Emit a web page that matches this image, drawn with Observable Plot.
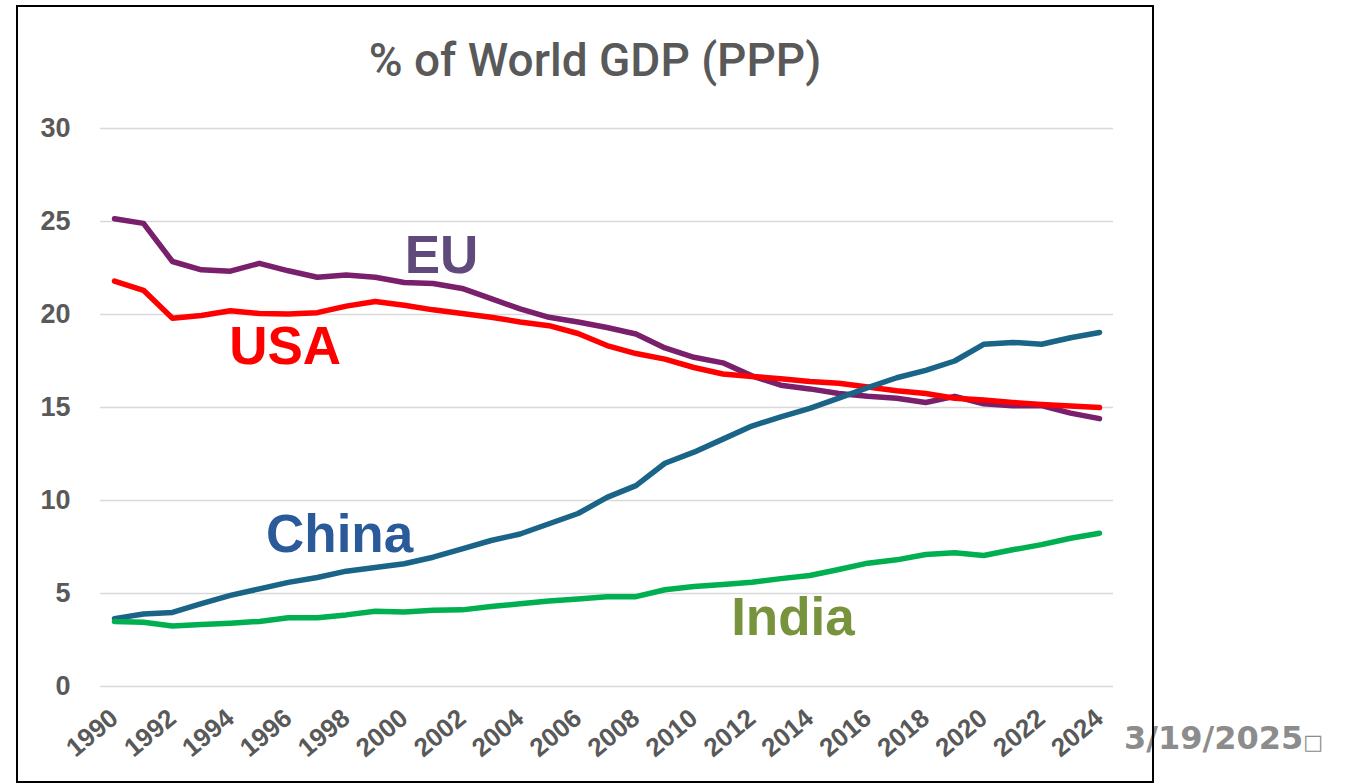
<!DOCTYPE html>
<html><head><meta charset="utf-8">
<script src="https://cdn.jsdelivr.net/npm/d3@7"></script>
<script src="https://cdn.jsdelivr.net/npm/@observablehq/plot@0.6"></script>
<style>
html,body{margin:0;padding:0;background:#fff;width:1355px;height:783px;overflow:hidden}
#wrap{position:relative;width:1355px;height:783px}
</style></head><body><div id="wrap"></div>
<script>
const years = [1990,1991,1992,1993,1994,1995,1996,1997,1998,1999,2000,2001,2002,2003,2004,2005,2006,2007,2008,2009,2010,2011,2012,2013,2014,2015,2016,2017,2018,2019,2020,2021,2022,2023,2024];
const eu = [25.15,24.9,22.85,22.4,22.33,22.75,22.35,22.0,22.12,22.0,21.72,21.67,21.4,20.85,20.3,19.85,19.6,19.3,18.95,18.2,17.7,17.4,16.7,16.2,16.0,15.75,15.6,15.5,15.27,15.6,15.2,15.1,15.1,14.7,14.4];
const usa = [21.8,21.3,19.8,19.95,20.2,20.05,20.03,20.1,20.45,20.7,20.5,20.25,20.05,19.85,19.6,19.4,18.98,18.33,17.9,17.6,17.15,16.8,16.67,16.55,16.4,16.3,16.1,15.9,15.75,15.5,15.4,15.27,15.16,15.08,15.0];
const china = [3.65,3.9,3.98,4.45,4.9,5.25,5.6,5.86,6.2,6.4,6.6,6.95,7.4,7.85,8.2,8.75,9.3,10.17,10.8,12.0,12.6,13.3,14.0,14.5,14.95,15.5,16.07,16.6,17.0,17.5,18.4,18.5,18.4,18.75,19.03];
const india = [3.5,3.45,3.25,3.33,3.4,3.5,3.7,3.7,3.85,4.05,4.0,4.1,4.12,4.3,4.45,4.6,4.7,4.83,4.83,5.2,5.38,5.48,5.6,5.8,5.97,6.29,6.63,6.81,7.1,7.19,7.04,7.35,7.63,7.97,8.24];
const seriesNames = ["EU","USA","China","India"];
const seriesColors = ["#791f6c","#ff0000","#1a6488","#00b050"];
const labelColors = ["#604a7b","#ff0000","#2a5a9a","#77933c"];
const yTicks = [0,5,10,15,20,25,30];
const xTicks = [1990,1992,1994,1996,1998,2000,2002,2004,2006,2008,2010,2012,2014,2016,2018,2020,2022,2024];
const titleText = "% of World GDP (PPP)";
const dateText = "3/19/2025";

const seriesValues = [eu, usa, china, india];
const rows = [];
seriesNames.forEach((s, i) => years.forEach((y, j) => rows.push({series: s, year: y, value: seriesValues[i][j]})));

const labels = [
  {name: "EU", x: 2001.29, y: 23.15},
  {name: "USA", x: 1995.89, y: 18.23},
  {name: "China", x: 1997.77, y: 8.17},
  {name: "India", x: 2013.42, y: 3.66}
];

const chart = Plot.plot({
  width: 1355, height: 783,
  marginLeft: 100, marginRight: 242, marginTop: 128, marginBottom: 97,
  style: {background: "white", fontFamily: "'Liberation Sans', Arial, sans-serif", overflow: "visible"},
  x: {domain: [1990, 2024], insetLeft: 14, insetRight: 14},
  y: {domain: [0, 30]},
  color: {domain: seriesNames, range: seriesColors},
  marks: [
    Plot.gridY(yTicks, {stroke: "#d9d9d9", strokeOpacity: 1, strokeWidth: 1.5}),
    Plot.axisY(yTicks, {tickSize: 0, tickPadding: 30, fontSize: 27, fontWeight: "bold", fill: "#595959", label: null}),
    Plot.axisX(xTicks, {tickSize: 0, tickPadding: 28, tickRotate: -40, tickFormat: d => String(d), fontSize: 26, fontWeight: "bold", fill: "#595959", label: null}),
    Plot.line(rows, {x: "year", y: "value", z: "series", stroke: "series", strokeWidth: 5.5, strokeLinecap: "round", strokeLinejoin: "round"}),
    Plot.text(labels, {x: "x", y: "y", text: "name", fill: d => labelColors[seriesNames.indexOf(d.name)], fontSize: 53, fontWeight: "bold", textAnchor: "middle", lineAnchor: "middle"})
  ]
});
document.getElementById("wrap").appendChild(chart);

const svg = d3.select(chart);
svg.append("text")
  .attr("x", 595).attr("y", 76)
  .attr("text-anchor", "middle")
  .attr("font-family", "Roboto, 'Liberation Sans', sans-serif")
  .attr("font-weight", 500)
  .attr("font-size", 46)
  .attr("fill", "#595959")
  .text(titleText);
const dt = svg.append("text")
  .attr("x", 1124).attr("y", 749)
  .attr("text-anchor", "start")
  .attr("font-family", "'DejaVu Sans', sans-serif")
  .attr("font-weight", "bold")
  .attr("font-size", 32)
  .attr("fill", "#8c8c8c");
dt.append("tspan").text(dateText);
dt.append("tspan").attr("font-size", 21).attr("font-weight", "normal").text("\u25A1");
svg.append("rect")
  .attr("x", 17).attr("y", 6).attr("width", 1136).attr("height", 776)
  .attr("fill", "none").attr("stroke", "#000").attr("stroke-width", 2);
</script></body></html>
